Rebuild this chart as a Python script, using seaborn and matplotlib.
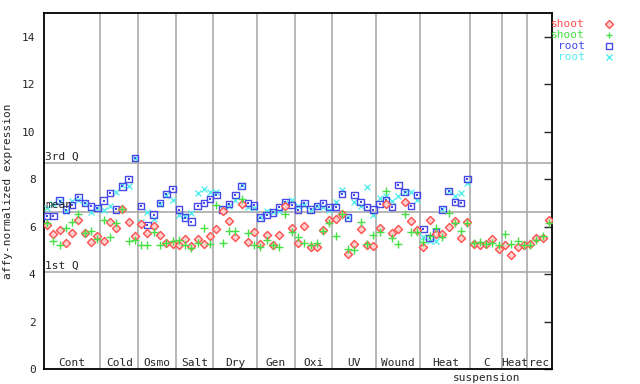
import numpy as np
import pandas as pd
import seaborn as sns
import matplotlib
matplotlib.use("Agg")
import matplotlib.pyplot as plt
from matplotlib.lines import Line2D
from matplotlib.transforms import blended_transform_factory

# experiment groups and number of samples in each
groups = ["Cont", "Cold", "Osmo", "Salt", "Dry", "Gen", "Oxi", "UV",
          "Wound", "Heat", "C", "Heat", "rec"]
group_sizes = [9, 6, 6, 6, 7, 6, 6, 7, 7, 8, 5, 4, 4]

# shoot, first replicate (red diamonds)
shoot_red = [6.07, 5.68, 5.86, 5.30, 5.72, 6.28, 5.75, 5.34, 5.61,
             5.40, 6.20, 5.96, 6.75, 6.19, 5.61,
             6.11, 5.72, 6.03, 5.65, 5.30, 5.27,
             5.23, 5.47, 5.19, 5.48, 5.26, 5.61,
             5.89, 6.66, 6.24, 5.55, 6.96, 5.34, 5.78,
             5.26, 5.64, 5.22, 5.64, 6.85, 5.93,
             5.33, 6.03, 5.16, 5.16, 5.86, 6.28,
             6.31, 6.52, 4.84, 5.26, 5.89, 5.23, 5.19,
             5.96, 6.96, 5.75, 5.89, 7.03, 6.24, 5.86,
             5.13, 6.28, 5.69, 5.69, 6.00, 6.24, 5.51, 6.18,
             5.26, 5.23, 5.27, 5.48, 5.05,
             5.23, 4.81, 5.16, 5.23,
             5.26, 5.54, 5.54, 6.26]

# shoot, second replicate (green plus)
shoot_green = [6.17, 5.41, 5.23, 5.93, 6.19, 6.52, 5.75, 5.82, 5.47,
               6.28, 5.55, 6.17, 6.73, 5.41, 5.44,
               5.23, 5.23, 5.79, 5.23, 5.33, 5.41,
               5.44, 5.23, 5.09, 5.30, 5.93, 5.26,
               6.90, 5.30, 5.82, 5.82, 7.17, 5.72, 5.23,
               5.16, 5.44, 5.22, 5.16, 6.52, 5.78,
               5.55, 5.30, 5.23, 5.30, 5.80, 6.14,
               5.61, 6.52, 5.05, 5.02, 6.21, 5.27, 5.65,
               5.79, 7.48, 5.51, 5.26, 6.52, 5.78, 5.78,
               5.34, 5.61, 5.96, 5.55, 6.59, 6.17, 5.82, 6.17,
               5.30, 5.37, 5.27, 5.30, 5.23,
               5.69, 5.26, 5.41, 5.23,
               5.23, 5.44, 5.61, 6.14]

# root, first replicate (blue squares) - no root samples for suspension / heat / rec
root_blue = [6.45, 6.45, 7.09, 6.71, 6.92, 7.24, 7.00, 6.85, 6.78,
             7.09, 7.41, 6.73, 7.69, 8.00, 8.90,
             6.87, 6.07, 6.50, 6.99, 7.37, 7.58,
             6.71, 6.38, 6.21, 6.87, 6.99, 7.17,
             7.34, 6.73, 6.95, 7.33, 7.72, 6.99, 6.89,
             6.38, 6.48, 6.60, 6.82, 7.03, 6.90,
             6.71, 6.99, 6.73, 6.87, 6.99, 6.82,
             6.82, 7.37, 6.38, 7.34, 7.03, 6.82, 6.71,
             6.95, 7.10, 6.82, 7.76, 7.45, 6.87, 7.34,
             5.89, 5.51, 5.76, 6.73, 7.51, 7.04, 7.00, 8.00] + [np.nan] * 13

# root, second replicate (cyan x)
root_cyan = [6.78, 6.96, 7.09, 6.65, 7.06, 7.10, 6.99, 6.60, 6.78,
             6.70, 6.87, 7.44, 7.76, 7.72, 8.88,
             6.21, 6.61, 6.31, 6.96, 7.34, 7.13,
             6.50, 6.43, 6.57, 7.41, 7.58, 7.44,
             7.44, 6.73, 6.85, 7.10, 7.76, 6.82, 6.78,
             6.40, 6.66, 6.60, 6.66, 7.00, 7.10,
             6.87, 6.90, 6.71, 6.87, 6.82, 6.70,
             7.02, 7.55, 6.40, 7.02, 6.87, 7.66, 6.50,
             7.20, 7.27, 7.06, 7.30, 7.45, 7.45, 7.10,
             5.58, 5.40, 5.40, 6.74, 7.50, 7.30, 7.41, 7.83] + [np.nan] * 13

# summary lines over all arrays
q3_value = 8.67
mean_value = 6.63
q1_value = 4.07

red = "#ff5050"
green = "#44e044"
blue = "#4848e8"
cyan = "#55eeee"
grey = "#aaaaaa"

sns.set_style("white")
plt.rcParams["font.family"] = ["DejaVu Sans Mono"]
plt.rcParams["font.size"] = 8

n = len(shoot_red)
df = pd.DataFrame({"sample": np.arange(n), "shoot_red": shoot_red,
                   "shoot_green": shoot_green, "root_blue": root_blue,
                   "root_cyan": root_cyan})

fig = plt.figure(figsize=(6.4, 3.84), dpi=100)
ax = fig.add_axes([44 / 640, 15 / 384, 508 / 640, 356 / 384])

# group separators and quartile lines
edges = np.cumsum(group_sizes)[:-1] - 0.5
for e in edges:
    ax.axvline(e, color=grey, lw=1.2, zorder=1)
for v in (q3_value, mean_value, q1_value):
    ax.axhline(v, color=grey, lw=1.2, zorder=1)

# points
sns.scatterplot(data=df, x="sample", y="root_cyan", marker="x", color=cyan,
                s=18, linewidth=1.0, ax=ax, zorder=3)
sns.scatterplot(data=df, x="sample", y="root_blue", marker="s", s=22,
                facecolor="none", edgecolor=blue, linewidth=1.0, ax=ax, zorder=3)
sns.scatterplot(data=df, x="sample", y="root_blue", marker="s", s=1.5,
                color=blue, linewidth=0, ax=ax, zorder=3)
sns.scatterplot(data=df, x="sample", y="shoot_red", marker="D", s=17,
                facecolor="#ffd0d0", edgecolor=red, linewidth=1.0, ax=ax, zorder=3)
sns.scatterplot(data=df, x="sample", y="shoot_green", marker="+", color=green,
                s=26, linewidth=1.0, ax=ax, zorder=3)

ax.set_xlim(-0.5, n - 0.5)
ax.set_ylim(0, 15)
ax.set_xticks([])
ax.set_yticks(range(0, 15, 2))
ax.tick_params(axis="y", direction="in", length=6, width=1, right=True,
               labelsize=8, pad=6)
ax.set_xlabel("")
ax.set_ylabel("affy-normalized expression", fontsize=8)
ax.yaxis.set_label_coords(-0.062, 0.5)
for s in ax.spines.values():
    s.set_color("black")
    s.set_linewidth(1.3)

# quartile labels
tr = blended_transform_factory(ax.transAxes, ax.transData)
for lab, v in (("3rd Q", q3_value), ("mean", mean_value), ("1st Q", q1_value)):
    ax.text(0.002, v + 0.05, lab, transform=tr, ha="left", va="bottom",
            fontsize=8, zorder=4)

# group labels
trx = blended_transform_factory(ax.transData, ax.transAxes)
starts = np.concatenate([[0], np.cumsum(group_sizes)[:-1]])
for lab, st, sz in zip(groups, starts, group_sizes):
    ax.text(st + sz / 2 - 0.5, 0.018, lab, transform=trx, ha="center",
            va="center", fontsize=8)
    if lab == "C":
        ax.text(st + sz / 2 - 0.5, -0.026, "suspension", transform=trx,
                ha="center", va="center", fontsize=8, clip_on=False)

# legend outside on the right
legend_items = [("shoot", red, "D"), ("shoot", green, "+"),
                ("root", blue, "s"), ("root", cyan, "x")]
for k, (lab, col, mk) in enumerate(legend_items):
    y = 1 - (24 + 11 * k) / 384
    fig.text(585 / 640, y, lab, color=col, ha="right", va="center", fontsize=8)
    if mk in ("+", "x"):
        h = Line2D([609 / 640], [y], marker=mk, color=col, markersize=5,
                   markeredgewidth=1.0, linestyle="none", transform=fig.transFigure)
    elif mk == "s":
        h = Line2D([609 / 640], [y], marker=mk, markerfacecolor="none",
                   markeredgecolor=col, markersize=4.5, markeredgewidth=1.0,
                   linestyle="none", transform=fig.transFigure)
    else:
        h = Line2D([609 / 640], [y], marker=mk, markerfacecolor="#ffd0d0",
                   markeredgecolor=col, markersize=4, markeredgewidth=1.0,
                   linestyle="none", transform=fig.transFigure)
    fig.add_artist(h)

fig.savefig("out.png", dpi=100)
